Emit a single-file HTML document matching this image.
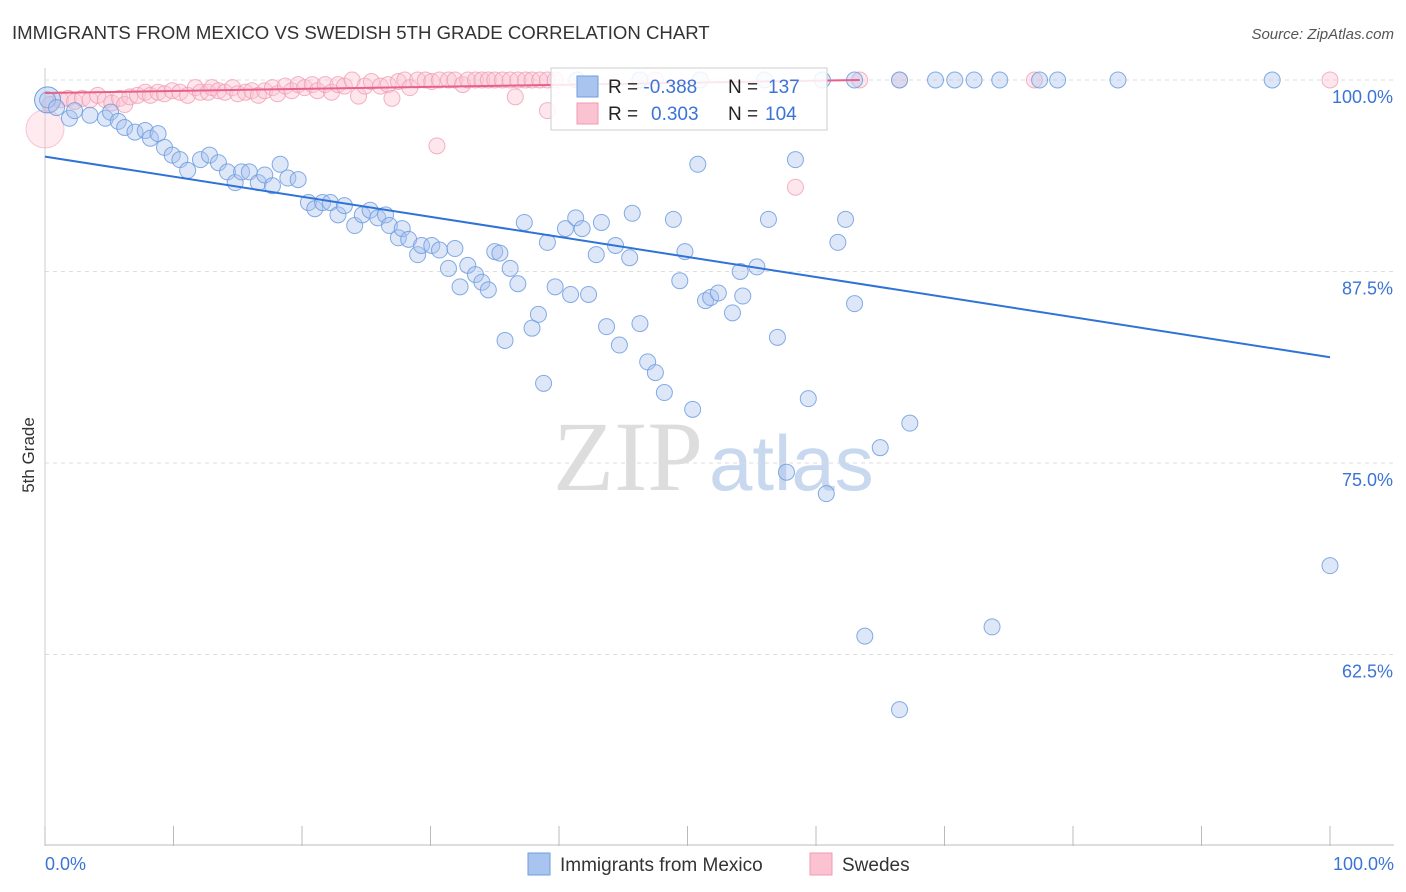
<!DOCTYPE html>
<html><head><meta charset="utf-8"><style>
body{margin:0;background:#fff;font-family:"Liberation Sans",sans-serif;}
svg{display:block}
</style></head><body>
<svg id="chart" width="1406" height="892">
<text x="12" y="39" font-size="18.6" fill="#333">IMMIGRANTS FROM MEXICO VS SWEDISH 5TH GRADE CORRELATION CHART</text>
<text x="1394" y="39" font-size="15" fill="#555" font-style="italic" text-anchor="end">Source: ZipAtlas.com</text>
<text x="34" y="455" font-size="17" fill="#333" transform="rotate(-90 34 455)" text-anchor="middle">5th Grade</text>
<text x="553" y="490" font-size="100" fill="#ddd" font-family="Liberation Serif,serif">ZIP<tspan fill="#c8d8ee" font-family="Liberation Sans,sans-serif" font-size="78" dx="6">atlas</tspan></text>
<g id="grid"></g><g id="axes"></g><g id="pink"></g><g id="blue"></g><g id="trends"></g>
<g>
<rect x="551" y="68" width="276" height="62" fill="#fff" fill-opacity="0.85" stroke="#ccc"/>
<rect x="577" y="76" width="21" height="21" fill="#a9c4ee" stroke="#6f9ee0"/>
<rect x="577" y="103" width="21" height="21" fill="#fbc3d2" stroke="#f09ab2"/>
<text x="608" y="93" font-size="19" fill="#222">R = <tspan fill="#3b74d6">-0.388</tspan><tspan x="728">N = </tspan><tspan fill="#3b74d6" x="768">137</tspan></text>
<text x="608" y="120" font-size="19" fill="#222">R = <tspan fill="#3b74d6" x="651">0.303</tspan><tspan x="728">N = </tspan><tspan fill="#3b74d6" x="765">104</tspan></text>
</g>
<g>
<rect x="528" y="853" width="22" height="22" fill="#a9c4ee" stroke="#6f9ee0"/>
<text x="560" y="871" font-size="19" fill="#333">Immigrants from Mexico</text>
<rect x="810" y="853" width="22" height="22" fill="#fbc3d2" stroke="#f09ab2"/>
<text x="842" y="871" font-size="19" fill="#333">Swedes</text>
</g>
</svg>
<script>
const yTicks=[100,87.5,75,62.5];
const yTickLabels=["100.0%","87.5%","75.0%","62.5%"];
const xTickLabels=["0.0%","100.0%"];
const blueX=[0.2,0.9,1.9,2.3,3.5,4.7,5.1,5.7,6.2,7.0,7.8,8.2,8.8,9.3,9.9,10.5,11.1,12.1,12.8,13.5,14.2,14.8,15.3,15.9,16.6,17.1,17.7,18.3,18.9,19.7,20.5,21.0,21.6,22.2,22.8,23.3,24.1,24.7,25.3,25.9,26.5,26.8,27.5,27.8,28.3,29.0,29.3,30.1,30.7,31.4,31.9,32.3,32.9,33.5,34.0,34.5,35.0,35.4,35.8,36.2,36.8,37.3,37.9,38.4,38.8,39.1,39.7,40.5,40.9,41.3,41.8,42.3,42.9,43.3,43.7,44.4,44.7,45.5,45.7,46.3,46.9,47.5,48.2,48.9,49.4,49.8,50.4,50.8,51.4,51.8,52.4,53.5,54.1,54.3,55.4,56.3,57.0,57.7,58.4,59.4,60.8,61.7,62.3,63.0,63.8,65.0,66.5,67.3,73.7,100,63.0,66.5,69.3,70.8,72.3,74.3,77.4,78.8,83.5,95.5,41.4,46.3,51.0,56.0,60.5];
const blueY=[98.7,98.2,97.5,98.0,97.7,97.5,97.9,97.3,96.9,96.6,96.7,96.2,96.5,95.6,95.1,94.8,94.1,94.8,95.1,94.6,94.0,93.3,94.0,94.0,93.3,93.8,93.1,94.5,93.6,93.5,92.0,91.6,92.0,92.0,91.2,91.8,90.5,91.2,91.5,91.0,91.2,90.5,89.7,90.3,89.6,88.6,89.2,89.2,88.9,87.7,89.0,86.5,87.9,87.3,86.8,86.3,88.8,88.7,83.0,87.7,86.7,90.7,83.8,84.7,80.2,89.4,86.5,90.3,86.0,91.0,90.3,86.0,88.6,90.7,83.9,89.2,82.7,88.4,91.3,84.1,81.6,80.9,79.6,90.9,86.9,88.8,78.5,94.5,85.6,85.8,86.1,84.8,87.5,85.9,87.8,90.9,83.2,74.4,94.8,79.2,73.0,89.4,90.9,85.4,63.7,76.0,58.9,77.6,64.3,68.3,100,100,100,100,100,100,100,100,100,100,100,100,100,100,100];
const pinkX=[0.4,1.2,1.8,2.3,2.9,3.5,4.1,4.7,5.2,5.8,6.2,6.6,7.2,7.8,8.2,8.8,9.3,9.9,10.5,11.1,11.7,12.1,12.7,13.0,13.5,14.0,14.6,15.0,15.6,16.1,16.6,17.1,17.7,18.1,18.7,19.2,19.7,20.2,20.8,21.2,21.8,22.3,22.8,23.3,23.9,24.4,24.9,25.4,26.1,26.7,27.0,27.5,28.0,28.4,29.0,29.6,30.1,30.7,31.4,31.9,32.5,32.9,33.5,34.0,34.5,35.0,35.6,36.2,36.8,37.4,37.9,38.5,39.1,39.7,30.5,36.6,39.1,58.4,47.5,63.4,66.5,77.0,100];
const pinkY=[98.4,98.7,98.8,98.6,98.8,98.7,99.0,98.7,98.5,98.8,98.4,98.9,99.0,99.2,99.0,99.2,99.1,99.3,99.2,99.0,99.5,99.2,99.2,99.5,99.3,99.2,99.5,99.1,99.2,99.3,99.0,99.3,99.5,99.1,99.6,99.3,99.7,99.5,99.7,99.3,99.7,99.2,99.7,99.6,100,98.95,99.6,99.9,99.6,99.7,98.8,99.9,100,99.5,100,100,99.9,100,100,100,99.7,100,100,100,100,100,100,100,100,100,100,100,100,100,95.7,98.9,98.0,93.0,100,100,100,100,100];
const blueTrendX=[0,100], blueTrendY=[95.0,81.9];
const pinkTrendX=[0,63.4], pinkTrendY=[99.15,100];
const X0=45,X1=1330,Y100=80,Y50=846;
const sx=v=>X0+(X1-X0)*v/100;
const sy=v=>Y100+(100-v)*(Y50-Y100)/50;
const NS="http://www.w3.org/2000/svg";
function mk(t,a,p){const e=document.createElementNS(NS,t);for(const k in a)e.setAttribute(k,a[k]);p.appendChild(e);return e;}
const grid=document.getElementById('grid'),axes=document.getElementById('axes');
yTicks.forEach((t,i)=>{
 const l=mk('line',{x1:X0,x2:1394,y1:sy(t),y2:sy(t),stroke:'#ddd','stroke-dasharray':'4,4'},grid);
 
 
 const tx=mk('text',{x:1393,y:sy(t)+23,'font-size':18,fill:'#3b74d6','text-anchor':'end'},axes);
 tx.textContent=yTickLabels[i];
 
 
});
const ax=mk('line',{x1:X0,x2:1394,y1:Y50-1,y2:Y50-1,stroke:'#bbb'},axes);


const ay=mk('line',{x1:X0,x2:X0,y1:68,y2:Y50,stroke:'#ccc'},axes);


for(let i=0;i<=10;i++){const t=mk('line',{x1:sx(i*10),x2:sx(i*10),y1:826,y2:Y50,stroke:'#bbb'},axes);
 
 }
[[0,'start',45],[100,'end',1394]].forEach((d,i)=>{const t=mk('text',{x:d[2],y:870,'font-size':18,fill:'#3b74d6','text-anchor':d[1]},axes);t.textContent=xTickLabels[i];
 
 });
const pg=document.getElementById('pink');
const big=mk('circle',{cx:sx(0),cy:sy(96.8),r:19,fill:'#fbc3d2','fill-opacity':0.35,stroke:'#f09ab2','stroke-opacity':0.5},pg);


pinkX.forEach((x,i)=>{const c=mk('circle',{cx:sx(x),cy:sy(pinkY[i]),r:8,fill:'#fbc3d2','fill-opacity':0.4,stroke:'#f09ab2','stroke-opacity':0.75},pg);
 
 });
const bg=document.getElementById('blue');
const bigb=mk('circle',{cx:sx(0.2),cy:sy(98.7),r:13,fill:'#a9c4ee','fill-opacity':0.45,stroke:'#6f9ee0'},bg);


blueX.forEach((x,i)=>{const c=mk('circle',{cx:sx(x),cy:sy(blueY[i]),r:8,fill:'#a9c4ee','fill-opacity':0.4,stroke:'#6f9ee0','stroke-opacity':0.85},bg);
 
 });
const tg=document.getElementById('trends');
const bl=mk('line',{x1:sx(blueTrendX[0]),y1:sy(blueTrendY[0]),x2:sx(blueTrendX[1]),y2:sy(blueTrendY[1]),stroke:'#2f72d8','stroke-width':2},tg);


const pl=mk('line',{x1:sx(pinkTrendX[0]),y1:sy(pinkTrendY[0]),x2:sx(pinkTrendX[1]),y2:sy(pinkTrendY[1]),stroke:'#e8608a','stroke-width':2},tg);


</script>
</body></html>
